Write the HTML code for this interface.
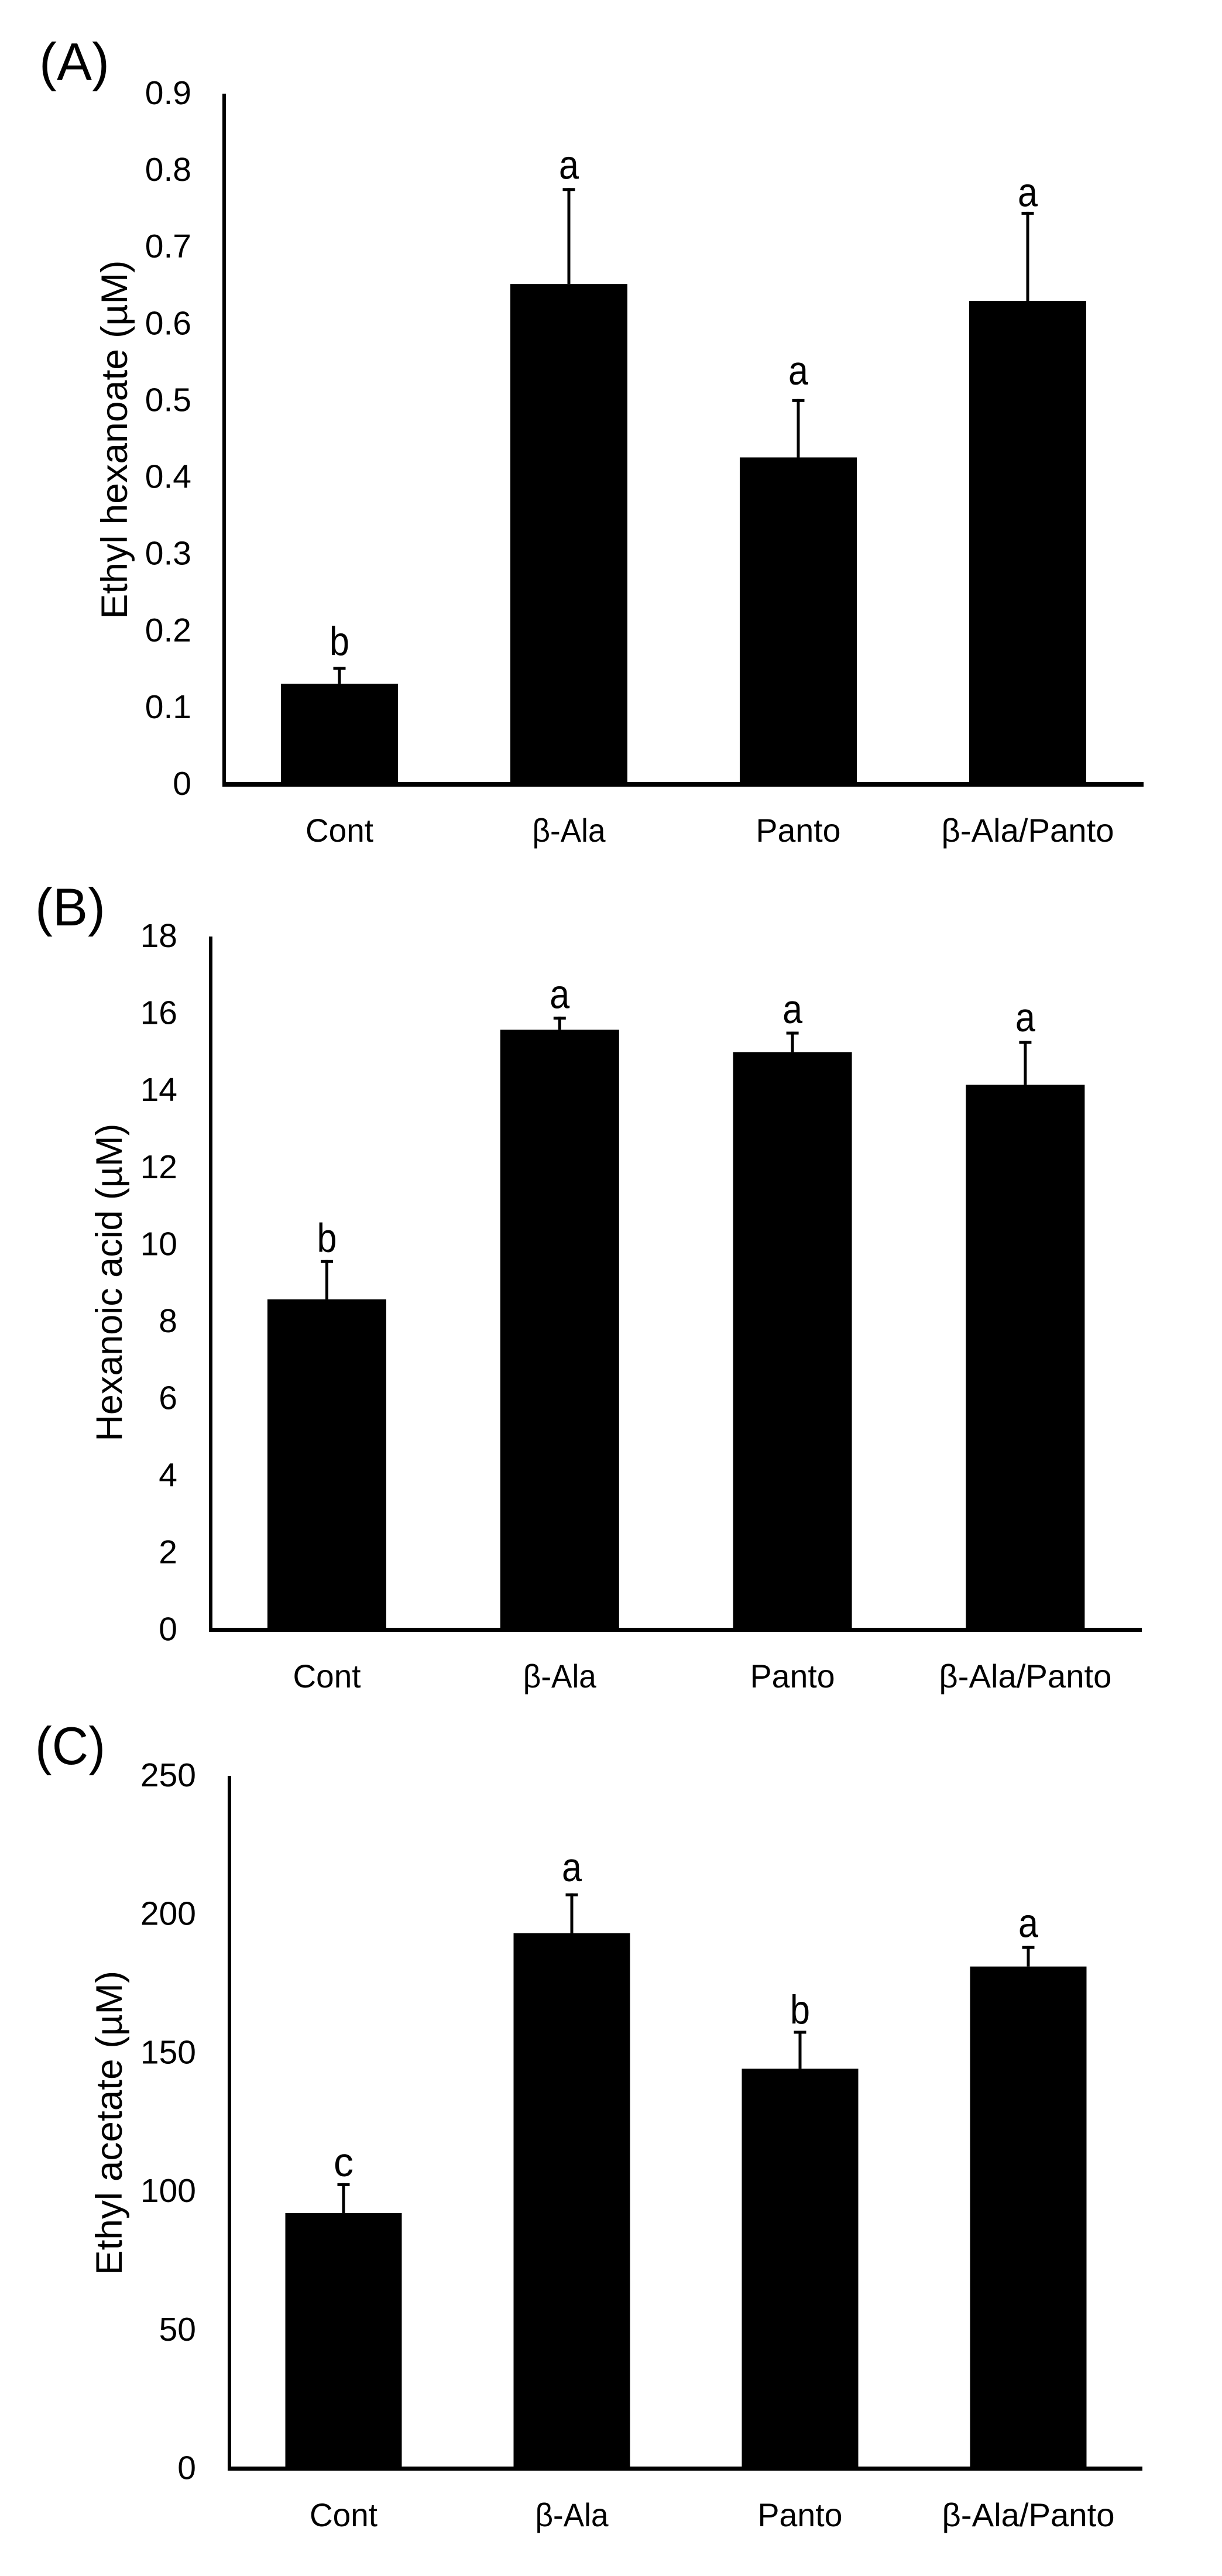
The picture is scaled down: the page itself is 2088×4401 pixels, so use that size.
<!DOCTYPE html>
<html lang="en">
<head>
<meta charset="utf-8">
<title>Ester and acid concentrations by treatment</title>
<style>
html,body{margin:0;padding:0;background:#fff;width:2088px;height:4401px;overflow:hidden}
svg{display:block}
text{font-family:"Liberation Sans",sans-serif;fill:#000}
</style>
</head>
<body>
<svg id="fig" xmlns="http://www.w3.org/2000/svg" width="2088" height="4401" viewBox="0 0 2088 4401"></svg>
<script>
const categories = ['Cont', '\u03B2-Ala', 'Panto', '\u03B2-Ala/Panto'];

const hexanoateValues = [0.131, 0.652, 0.426, 0.630];
const hexanoateErrors = [0.022, 0.125, 0.076, 0.116];
const hexanoateLetters = ['b', 'a', 'a', 'a'];
const hexanoateLetterGaps = [0.015, 0.012, 0.019, 0.007];
const hexanoateTicks = ['0', '0.1', '0.2', '0.3', '0.4', '0.5', '0.6', '0.7', '0.8', '0.9'];

const acidValues = [8.58, 15.58, 15.0, 14.15];
const acidErrors = [1.02, 0.34, 0.53, 1.14];
const acidLetters = ['b', 'a', 'a', 'a'];
const acidLetterGaps = [0.21, 0.22, 0.22, 0.25];
const acidTicks = ['0', '2', '4', '6', '8', '10', '12', '14', '16', '18'];

const acetateValues = [92.2, 193.2, 144.3, 181.2];
const acetateErrors = [10.8, 14.4, 13.7, 7.4];
const acetateLetters = ['c', 'a', 'b', 'a'];
const acetateLetterGaps = [2.5, 4.4, 2.5, 3.2];
const acetateTicks = ['0', '50', '100', '150', '200', '250'];

const categoryLabelWidths = {'Cont': 116, '\u03B2-Ala': 125, 'Panto': 145, '\u03B2-Ala/Panto': 295};

const panels = [
  {key: 'a', tag: '(A)', tagX: 67, tagY: 137, title: 'Ethyl hexanoate (\u00B5M)',
   titleX: 217, titleMid: 751, titleLen: 613,
   axisLeft: 380, axisRight: 1954, top: 160, base: 1340, baseThick: 8,
   first: 580, step: 392, barW: 200, xLabelY: 1438, tickRight: 327,
   max: 0.9, values: hexanoateValues, errors: hexanoateErrors,
   letters: hexanoateLetters, gaps: hexanoateLetterGaps, ticks: hexanoateTicks},
  {key: 'b', tag: '(B)', tagX: 60, tagY: 1581, title: 'Hexanoic acid (\u00B5M)',
   titleX: 208, titleMid: 2191, titleLen: 543,
   axisLeft: 357, axisRight: 1951, top: 1600, base: 2784.5, baseThick: 7,
   first: 558.5, step: 397.8, barW: 203, xLabelY: 2883, tickRight: 303,
   max: 18, values: acidValues, errors: acidErrors,
   letters: acidLetters, gaps: acidLetterGaps, ticks: acidTicks},
  {key: 'c', tag: '(C)', tagX: 60, tagY: 3014, title: 'Ethyl acetate (\u00B5M)',
   titleX: 208, titleMid: 3627, titleLen: 520,
   axisLeft: 389, axisRight: 1952, top: 3034, base: 4217.5, baseThick: 7,
   first: 587, step: 390, barW: 199, xLabelY: 4316, tickRight: 335,
   max: 250, values: acetateValues, errors: acetateErrors,
   letters: acetateLetters, gaps: acetateLetterGaps, ticks: acetateTicks}
];

const NS = 'http://www.w3.org/2000/svg';
const root = document.getElementById('fig');

function make(parent, tag, attrs, txt) {
  const node = document.createElementNS(NS, tag);
  for (const k in attrs) node.setAttribute(k, attrs[k]);
  if (txt !== undefined) node.textContent = txt;
  parent.appendChild(node);
  return node;
}

panels.forEach(function (p) {
  const yOf = function (v) { return p.base - (v / p.max) * (p.base - p.top); };
  const xOf = function (i) { return p.first + i * p.step; };

  const g = make(root, 'g', {});
  
  

  let el = make(g, 'text', {x: p.tagX, y: p.tagY, 'font-size': 91, textLength: 120, lengthAdjust: 'spacingAndGlyphs'}, p.tag);
  
  

  el = make(g, 'text', {x: 0, y: 0, 'font-size': 63, 'text-anchor': 'middle', textLength: p.titleLen, lengthAdjust: 'spacingAndGlyphs', transform: 'translate(' + p.titleX + ' ' + p.titleMid + ') rotate(-90)'}, p.title);
  
  

  p.ticks.forEach(function (t) {
    const tick = make(g, 'text', {x: p.tickRight, y: yOf(parseFloat(t)) + 18, 'font-size': 57, 'text-anchor': 'end'}, t);
    
    
  });

  p.values.forEach(function (v, i) {
    const cx = xOf(i);
    const errTop = v + p.errors[i];

    const stem = make(g, 'rect', {x: cx - 2.5, y: yOf(errTop), width: 5, height: yOf(v) - yOf(errTop)});
    
    

    const cap = make(g, 'rect', {x: cx - 10.5, y: yOf(errTop), width: 21, height: 5});
    
    

    const bar = make(g, 'rect', {x: cx - p.barW / 2, y: yOf(v), width: p.barW, height: p.base - yOf(v), fill: '#000'});
    
    

    const letter = make(g, 'text', {x: cx, y: yOf(errTop + p.gaps[i]), 'font-size': 70, 'text-anchor': 'middle', textLength: 34, lengthAdjust: 'spacingAndGlyphs'}, p.letters[i]);
    
    

    const cat = make(g, 'text', {x: cx, y: p.xLabelY, 'font-size': 56, 'text-anchor': 'middle', textLength: categoryLabelWidths[categories[i]], lengthAdjust: 'spacingAndGlyphs'}, categories[i]);
    
    
  });

  el = make(g, 'rect', {x: p.axisLeft, y: p.top, width: 6, height: p.base - p.top + p.baseThick / 2});
  
  

  el = make(g, 'rect', {x: p.axisLeft, y: p.base - p.baseThick / 2, width: p.axisRight - p.axisLeft, height: p.baseThick});
  
  
});
</script>
</body>
</html>
